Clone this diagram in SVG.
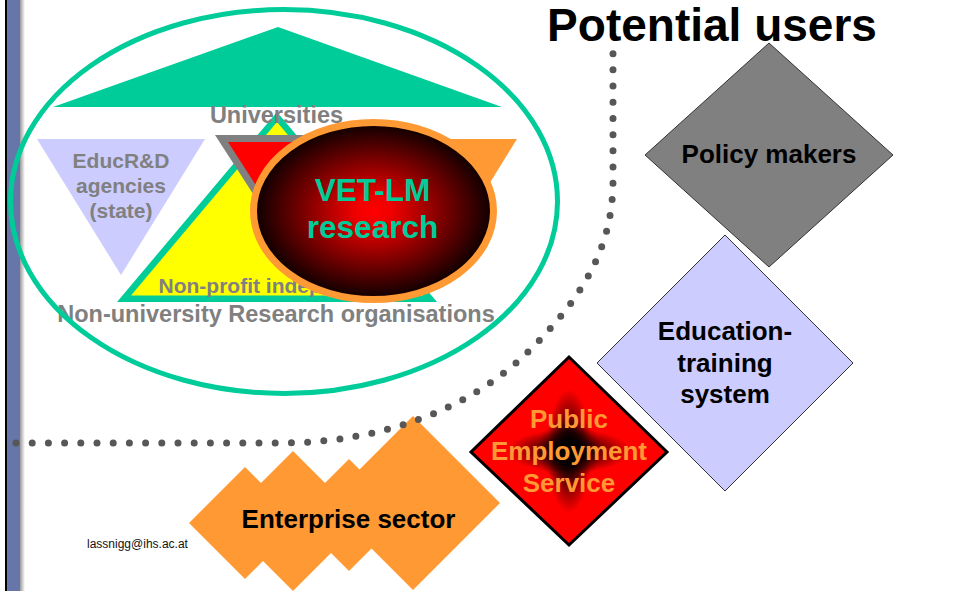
<svg xmlns="http://www.w3.org/2000/svg" width="956" height="591" viewBox="0 0 956 591">
<defs>
<style>
text{font-family:"Liberation Sans",Arial,sans-serif;font-weight:bold;text-anchor:middle}
.gray{fill:#808080}
.blk{fill:#000}
.f26{font-size:26px}
.dia{stroke:#333;stroke-width:1}
.ent{fill:#FF9933}
</style>
<linearGradient id="shadow" x1="0" y1="0" x2="1" y2="0">
<stop offset="0" stop-color="#9a9a9a"/>
<stop offset="1" stop-color="#ffffff"/>
</linearGradient>
<radialGradient id="vet" cx="0.5" cy="0.5" r="0.5">
<stop offset="0" stop-color="#ff0000"/>
<stop offset="0.15" stop-color="#f00000"/>
<stop offset="1" stop-color="#0a0000"/>
</radialGradient>
<radialGradient id="dark" cx="0.5" cy="0.5" r="0.5">
<stop offset="0" stop-color="#000" stop-opacity="1"/>
<stop offset="0.4" stop-color="#000" stop-opacity="0.7"/>
<stop offset="1" stop-color="#000" stop-opacity="0"/>
</radialGradient>
<clipPath id="pesclip"><polygon points="569,357 667,452 569,545 471,452"/></clipPath>
</defs>
<rect width="956" height="591" fill="#fff"/>
<g id="sidebar">
<rect x="5" y="0" width="2.5" height="591" fill="#000"/>
<rect x="7.5" y="0" width="12.5" height="591" fill="#6676A9"/>
<rect x="20" y="0" width="5" height="591" fill="url(#shadow)"/>
</g>
<g id="title"><text x="712" y="41" style="font-size:46px">Potential users</text></g>

<g id="research-community">
<polygon points="53,107 278,27 502,107" fill="#00CC99"/>
<g id="educrd">
<polygon points="37,139 205,139 121,275" fill="#CCCCFF"/>
<text class="gray" x="121" y="168" style="font-size:21px">EducR&amp;D</text>
<text class="gray" x="121" y="193" style="font-size:21px">agencies</text>
<text class="gray" x="121" y="218" style="font-size:21px">(state)</text>
</g>
<g id="nonprofit">
<polygon points="117,302 437,302 277,112" fill="#00CC99"/>
<polygon points="131,295.5 423,295.5 277,122" fill="#FFFF00"/>
<text class="gray" x="158.5" y="293" style="font-size:21px;text-anchor:start">Non-profit indep</text>
</g>
<g id="universities">
<polygon points="215,135 383,135 299,265" fill="#808080"/>
<polygon points="228,142 370,142 299,252" fill="#FF0000"/>
<text class="gray" x="276.5" y="123" style="font-size:23.5px">Universities</text>
</g>
<g id="other-triangle">
<polygon points="349,139 517,139 433,275" fill="#FF9933"/>
</g>
<g id="vet-lm">
<ellipse cx="373.5" cy="211" rx="120" ry="88.5" fill="url(#vet)" stroke="#FF9933" stroke-width="7"/>
<text x="372.5" y="201" style="font-size:31.5px;fill:#00CC99">VET-LM</text>
<text x="372.5" y="238" style="font-size:31.5px;fill:#00CC99">research</text>
</g>
<text class="gray" x="276" y="322" style="font-size:23.5px">Non-university Research organisations</text>
<ellipse cx="284" cy="201.5" rx="273.5" ry="192" fill="none" stroke="#00CC99" stroke-width="5"/>
</g>

<g id="policy-makers">
<polygon class="dia" points="769,43 893,155 769,267 645,155" fill="#808080"/>
<text class="blk f26" x="769" y="163">Policy makers</text>
</g>
<g id="education-training">
<polygon class="dia" points="725,235 853,363 725,491 597,363" fill="#CCCCFF"/>
<text class="blk f26" x="725" y="340">Education-</text>
<text class="blk f26" x="725" y="372">training</text>
<text class="blk f26" x="725" y="403">system</text>
</g>
<g id="pes">
<polygon points="569,357 667,452 569,545 471,452" fill="#FF0000"/>
<g clip-path="url(#pesclip)">
<ellipse cx="569" cy="451" rx="62" ry="22" fill="url(#dark)"/>
<ellipse cx="569" cy="451" rx="22" ry="62" fill="url(#dark)"/>
<ellipse cx="569" cy="451" rx="32" ry="32" fill="url(#dark)"/>
</g>
<polygon points="569,357 667,452 569,545 471,452" fill="none" stroke="#000" stroke-width="3"/>
<text class="f26" x="569" y="428" fill="#FF9933">Public</text>
<text class="f26" x="569" y="460" fill="#FF9933">Employment</text>
<text class="f26" x="569" y="492" fill="#FF9933">Service</text>
</g>
<g id="enterprise">
<polygon class="ent" points="245,467 301,523 245,579 189,523"/>
<polygon class="ent" points="293,451 363,521 293,591 223,521"/>
<polygon class="ent" points="349,459 405,515 349,571 293,515"/>
<polygon class="ent" points="413,416 500,503 413,590 326,503"/>
<text class="blk f26" x="348.5" y="528">Enterprise sector</text>
</g>
<g id="connectors">
<path d="M16,443 L280,443 C380,443 470,410 530,350 C590,290 613,240 613,180 L613,41" fill="none" stroke="#575757" stroke-width="7" stroke-linecap="round" stroke-dasharray="0 16.2"/>
</g>
<g id="footer"><text x="87" y="548" style="font-size:12px;font-weight:normal;text-anchor:start;fill:#111">lassnigg@ihs.ac.at</text></g>
</svg>
